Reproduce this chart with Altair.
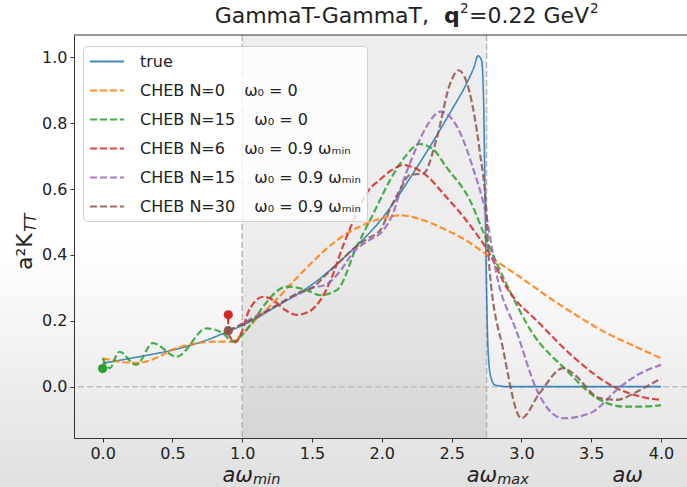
import altair as alt
import pandas as pd

# ---------------- data ----------------
labels = [
    "true",
    "CHEB N=0\u2003\u2009ω₀ = 0",
    "CHEB N=15\u2003\u2009ω₀ = 0",
    "CHEB N=6\u2003\u2009ω₀ = 0.9 ωₘᵢₙ",
    "CHEB N=15\u2003\u2009ω₀ = 0.9 ωₘᵢₙ",
    "CHEB N=30\u2003\u2009ω₀ = 0.9 ωₘᵢₙ",
]
colors = ["#1f77b4", "#ff7f0e", "#2ca02c", "#d62728", "#9467bd", "#8c564b"]

true_x = [0.0, 0.25, 0.5, 0.75, 0.9, 1.0, 1.25, 1.5, 1.75, 2.0, 2.25, 2.5, 2.6, 2.66,
          2.69, 2.715, 2.73, 2.74, 2.75, 2.76, 2.78, 2.81, 2.9, 3.5, 4.0]
true_y = [0.071, 0.09, 0.111, 0.142, 0.168, 0.186, 0.245, 0.31, 0.40, 0.51, 0.665, 0.84,
          0.915, 0.97, 1.005, 0.99, 0.85, 0.55, 0.30, 0.12, 0.03, 0.005, 0.0, 0.0, 0.0]

n0_x = [0.0, 0.05, 0.15, 0.25, 0.4, 0.5, 0.65, 0.8, 0.92, 1.0, 1.1, 1.2, 1.44, 1.68,
        1.96, 2.13, 2.3, 2.46, 2.6, 2.77, 3.0, 3.2, 3.37, 3.6, 3.8, 4.0]
n0_y = [0.085, 0.082, 0.074, 0.072, 0.09, 0.112, 0.130, 0.137, 0.137, 0.16, 0.205,
        0.245, 0.352, 0.445, 0.506, 0.52, 0.505, 0.476, 0.445, 0.395, 0.33, 0.27,
        0.223, 0.165, 0.125, 0.086]

n15_x = [0.0, 0.05, 0.12, 0.24, 0.36, 0.53, 0.745, 0.85, 0.94, 1.0, 1.08, 1.15, 1.32,
         1.45, 1.56, 1.68, 1.82, 1.94, 2.06, 2.17, 2.27, 2.37, 2.46, 2.63, 2.75, 2.89,
         3.08, 3.32, 3.56, 3.75, 3.9, 4.0]
n15_y = [0.086, 0.056, 0.106, 0.066, 0.132, 0.091, 0.177, 0.165, 0.137, 0.158, 0.20,
         0.243, 0.304, 0.295, 0.278, 0.294, 0.425, 0.526, 0.628, 0.70, 0.737, 0.72,
         0.668, 0.567, 0.445, 0.314, 0.162, 0.051, -0.04, -0.061, -0.06, -0.056]

r6_x = [0.9, 0.95, 1.0, 1.04, 1.08, 1.15, 1.22, 1.3, 1.39, 1.48, 1.56, 1.64, 1.72,
        1.82, 1.89, 1.99, 2.08, 2.15, 2.3, 2.46, 2.65, 2.77, 2.89, 3.13, 3.37, 3.66,
        3.85, 4.0]
r6_y = [0.16, 0.135, 0.17, 0.223, 0.253, 0.273, 0.263, 0.235, 0.218, 0.228, 0.263,
        0.33, 0.425, 0.526, 0.587, 0.63, 0.66, 0.673, 0.648, 0.577, 0.48, 0.405,
        0.304, 0.192, 0.091, 0.0, -0.03, -0.04]

p15_x = [0.9, 1.0, 1.1, 1.2, 1.3, 1.4, 1.5, 1.6, 1.7, 1.8, 1.91, 2.0, 2.08, 2.15,
         2.22, 2.32, 2.42, 2.54, 2.65, 2.75, 2.82, 2.97, 3.11, 3.3, 3.49, 3.71, 3.85,
         4.0]
p15_y = [0.17, 0.19, 0.215, 0.235, 0.26, 0.28, 0.30, 0.31, 0.35, 0.41, 0.445, 0.47,
         0.526, 0.62, 0.698, 0.79, 0.835, 0.789, 0.668, 0.516, 0.344, 0.162, -0.01,
         -0.096, -0.081, 0.0, 0.04, 0.066]

b30_x = [0.9, 1.0, 1.1, 1.2, 1.3, 1.4, 1.5, 1.6, 1.7, 1.8, 1.9, 1.99, 2.07, 2.13,
         2.2, 2.3, 2.39, 2.49, 2.55, 2.63, 2.7, 2.75, 2.77, 2.87, 3.0, 3.13, 3.3,
         3.37, 3.56, 3.68, 3.85, 4.0]
b30_y = [0.17, 0.19, 0.21, 0.235, 0.26, 0.285, 0.30, 0.34, 0.38, 0.42, 0.45, 0.476,
         0.55, 0.597, 0.643, 0.648, 0.749, 0.921, 0.961, 0.891, 0.719, 0.526, 0.364,
         0.111, -0.096, -0.02, 0.056, 0.04, -0.035, -0.04, -0.01, 0.025]

series_x = [true_x, n0_x, n15_x, r6_x, p15_x, b30_x]
series_y = [true_y, n0_y, n15_y, r6_y, p15_y, b30_y]

dot_x = [0.0, 0.9, 0.9]
dot_y = [0.055, 0.17, 0.218]
dot_c = ["#2ca02c", "#8c564b", "#d62728"]
err_x = [0.9]
err_lo = [0.19]
err_hi = [0.218]

x_ticks = [0.0, 0.5, 1.0, 1.5, 2.0, 2.5, 3.0, 3.5, 4.0]
y_ticks = [0.0, 0.2, 0.4, 0.6, 0.8, 1.0]
band = [1.0, 2.75]
ann_x = [1.077, 2.826, 3.87]
ann_main = ["aω", "aω", "aω"]
ann_sub = ["min", "max", ""]

# ---------------- build ----------------
W, H = 613, 403
rows = []
for name, xs_, ys_ in zip(labels, series_x, series_y):
    for i, (x, y) in enumerate(zip(xs_, ys_)):
        rows.append({"series": name, "x": x, "y": y, "i": i})
df = pd.DataFrame(rows)

xs = alt.Scale(domain=[-0.205, 4.186], nice=False, zero=False)
ys = alt.Scale(domain=[-0.156, 1.068], nice=False, zero=False)
one = pd.DataFrame({"a": [0]})

bg = alt.Chart(one).mark_rect(
    fill=alt.LinearGradient(
        gradient="linear",
        stops=[alt.GradientStop(color="#ffffff", offset=0),
               alt.GradientStop(color="#ffffff", offset=0.5),
               alt.GradientStop(color="#e0e0e0", offset=1)],
        x1=0, x2=0, y1=0, y2=1),
).encode(x=alt.value(-74), x2=alt.value(W), y=alt.value(-35), y2=alt.value(452))

shade = alt.Chart(pd.DataFrame({"a": [band[0]], "b": [band[1]]})).mark_rect(
    color="#000000", opacity=0.07
).encode(x=alt.X("a:Q", scale=xs), x2="b:Q")

vrules = alt.Chart(pd.DataFrame({"x": band})).mark_rule(
    color="#b5b5b5", strokeDash=[6, 3], strokeWidth=1.5
).encode(x=alt.X("x:Q", scale=xs))
hrule = alt.Chart(pd.DataFrame({"y": [0.0]})).mark_rule(
    color="#c0c0c0", strokeDash=[6, 3], strokeWidth=1.5
).encode(y=alt.Y("y:Q", scale=ys))

leg = alt.Legend(
    title=None, orient="none", legendX=9, legendY=11,
    symbolType="M-1,0H3", symbolSize=289, symbolStrokeWidth=2, symbolOpacity=0.85,
    symbolFillColor="transparent",
    labelFont="DejaVu Sans", labelFontSize=16, labelColor="#222222",
    labelOffset=32, labelLimit=400, rowPadding=11, padding=6,
    fillColor="rgba(255,255,255,0.8)", strokeColor="#d0d0d0", cornerRadius=4,
    zindex=2,
)
col = alt.Color("series:N", scale=alt.Scale(domain=labels, range=colors), legend=leg)
dash = alt.StrokeDash("series:N", scale=alt.Scale(
    domain=labels, range=[[1, 0]] + [[7, 3]] * 5), legend=leg)

xa = alt.Axis(values=x_ticks, format=".1f", title=None, grid=False, labelFontSize=16,
              labelFont="DejaVu Sans", labelColor="#222222", tickColor="#333333",
              domainColor="#333333", tickSize=4, labelPadding=3, zindex=1)
ya = alt.Axis(values=y_ticks, format=".1f", title=None, grid=False, labelFontSize=16,
              labelFont="DejaVu Sans", labelColor="#222222", tickColor="#333333",
              domainColor="#333333", tickSize=4, labelPadding=3, zindex=1)

true_line = alt.Chart(df[df.series == labels[0]]).mark_line(
    strokeWidth=1.6, opacity=0.85, interpolate="monotone"
).encode(x=alt.X("x:Q", scale=xs, axis=xa), y=alt.Y("y:Q", scale=ys, axis=ya),
         color=col, strokeDash=dash, order="i:Q")
cheb_lines = alt.Chart(df[df.series != labels[0]]).mark_line(
    strokeWidth=2.2, opacity=0.85, interpolate="monotone"
).encode(x=alt.X("x:Q", scale=xs), y=alt.Y("y:Q", scale=ys),
         color=col, strokeDash=dash, order="i:Q")

errs = alt.Chart(pd.DataFrame({"x": err_x, "lo": err_lo, "hi": err_hi})).mark_rule(
    color="#d62728", strokeWidth=2
).encode(x=alt.X("x:Q", scale=xs), y=alt.Y("lo:Q", scale=ys), y2="hi:Q")
dots = alt.Chart(pd.DataFrame({"x": dot_x, "y": dot_y, "c": dot_c})).mark_circle(
    size=85, opacity=1
).encode(x=alt.X("x:Q", scale=xs), y=alt.Y("y:Q", scale=ys),
         color=alt.Color("c:N", scale=None, legend=None))

ann = pd.DataFrame({"x": ann_x, "m": ann_main, "s": ann_sub})
ann_m = alt.Chart(ann).mark_text(
    align="right", baseline="alphabetic", font="DejaVu Sans", fontSize=21,
    fontStyle="italic", color="#222222"
).encode(x=alt.X("x:Q", scale=xs), y=alt.value(446.5), text="m:N")
ann_s = alt.Chart(ann).mark_text(
    align="left", baseline="alphabetic", font="DejaVu Sans", fontSize=14.5,
    fontStyle="italic", color="#222222"
).encode(x=alt.X("x:Q", scale=xs), y=alt.value(448.5), text="s:N")

def txt(t, x, y, size, align="left", weight="normal", style="normal", angle=0):
    kw = dict(align=align, baseline="alphabetic", font="DejaVu Sans", fontSize=size,
              fontWeight=weight, fontStyle=style, color="#222222", text=t)
    if angle:
        kw["angle"] = angle
    return alt.Chart(one).mark_text(**kw).encode(x=alt.value(x), y=alt.value(y))

title_parts = [
    txt("GammaT-GammaT,", 355, -12, 22, align="right"),
    txt("q", 370, -12, 22, weight="bold"),
    txt("2", 386, -22, 13.5),
    txt("=0.22 GeV", 395, -12, 22),
    txt("2", 516, -22, 13.5),
]
ylab = [
    txt("a²K", -42, 235, 22, angle=270),
    txt("TT", -38, 197, 15, style="italic", angle=270),
]

top_line = alt.Chart(one).mark_rule(color="#333333", strokeWidth=1).encode(
    x=alt.value(0), x2=alt.value("width"), y=alt.value(0))

chart = alt.layer(
    bg, shade, vrules, hrule, true_line, cheb_lines, errs, dots,
    ann_m, ann_s, *title_parts, *ylab, top_line
).properties(
    width=W, height=H,
    autosize=alt.AutoSizeParams(type="none"),
    padding={"left": 74, "top": 35, "right": 0, "bottom": 49},
).configure_view(stroke=None).configure(background="white")

chart.save("out.html", embed_options={"renderer": "svg", "actions": False})
